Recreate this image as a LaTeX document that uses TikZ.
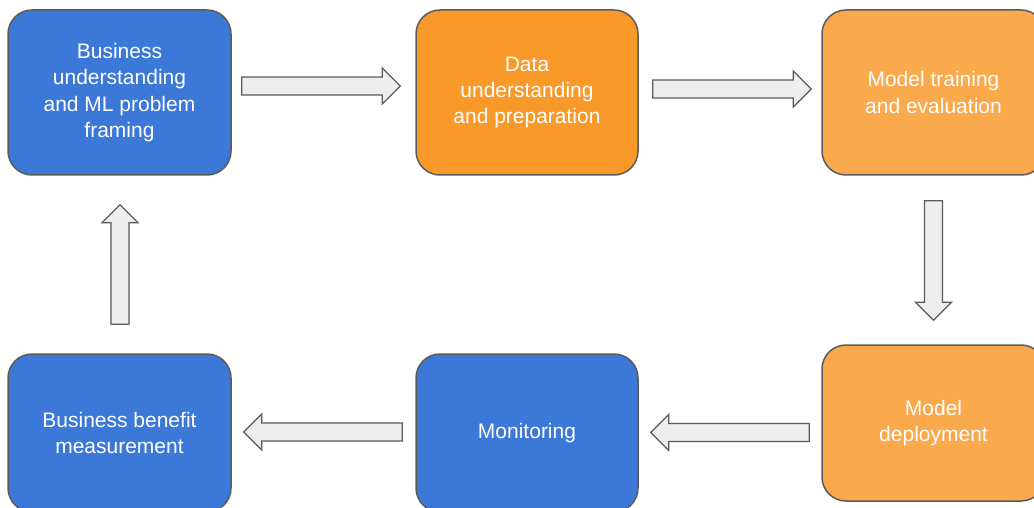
\documentclass[tikz,border=0pt]{standalone}
\usepackage{fontspec}
\setmainfont{Liberation Sans}
\usetikzlibrary{calc}
\definecolor{bblue}{HTML}{3C78D8}
\definecolor{borange}{HTML}{F8992A}
\definecolor{lorange}{HTML}{FBA94D}
\definecolor{edgegray}{HTML}{5B5B5B}
\definecolor{arrfill}{HTML}{EEEEEE}
\newcommand\blockarrow[2]{%
  \coordinate (ba-h) at ($(#2)!18pt!(#1)$);
  \draw[barrow] ($(#1)!9pt!90:(#2)$) -- ($(ba-h)!9pt!90:(#2)$) -- ($(ba-h)!18pt!90:(#2)$) -- (#2)
    -- ($(ba-h)!18pt!-90:(#2)$) -- ($(ba-h)!9pt!-90:(#2)$) -- ($(#1)!9pt!-90:(#2)$) -- cycle;}
\begin{document}
\begin{tikzpicture}[x=1pt,y=-1pt,
  stage/.style={draw=edgegray, line width=1.5pt, rounded corners=24pt, text=white, align=center,
    font=\fontsize{21}{26.3}\selectfont, inner sep=0pt, minimum width=223pt, minimum height=165pt},
  barrow/.style={draw=edgegray, fill=arrfill, line width=1.3pt, line join=miter}]
\useasboundingbox (0,0) rectangle (1034,508);
\clip (0,0) rectangle (1034,508);
\fill[white] (0,0) rectangle (1034,508);
\node[stage, fill=bblue] (bu) at (119.5,92.5) {Business\\understanding\\and ML problem\\framing};
\node[stage, fill=borange, minimum width=222pt] (du) at (527,92.5) {Data\\understanding\\and preparation};
\node[stage, fill=lorange] (mt) at (933.5,92.5) {Model training\\and evaluation};
\node[stage, fill=lorange, minimum height=156pt] (md) at (933.5,423) {Model\\deployment};
\node[stage, fill=bblue, minimum width=222pt, minimum height=158pt] (mo) at (527,433) {Monitoring};
\node[stage, fill=bblue, minimum height=158pt] (bb) at (119.5,433) {Business benefit\\measurement};
\coordinate (a1s) at ($(bu.east)+(10,-6.5)$);
\coordinate (a1e) at ($(du.west)+(-15,-6.5)$);
\coordinate (a2s) at ($(du.east)+(14,-3.5)$);
\coordinate (a2e) at ($(mt.west)+(-10,-3.5)$);
\coordinate (a3s) at ($(mt.south)+(0,25)$);
\coordinate (a3e) at ($(md.north)+(0,-24)$);
\coordinate (a4s) at ($(md.west)+(-12,9.5)$);
\coordinate (a4e) at ($(mo.east)+(12,-0.5)$);
\coordinate (a5s) at ($(bb.north)+(0.5,-29)$);
\coordinate (a5e) at ($(bu.south)+(0.5,29)$);
\coordinate (a6s) at ($(mo.west)+(-13,-1)$);
\coordinate (a6e) at ($(bb.east)+(12,-1)$);
\blockarrow{a1s}{a1e}
\blockarrow{a2s}{a2e}
\blockarrow{a3s}{a3e}
\blockarrow{a4s}{a4e}
\blockarrow{a5s}{a5e}
\blockarrow{a6s}{a6e}
\end{tikzpicture}
\end{document}
